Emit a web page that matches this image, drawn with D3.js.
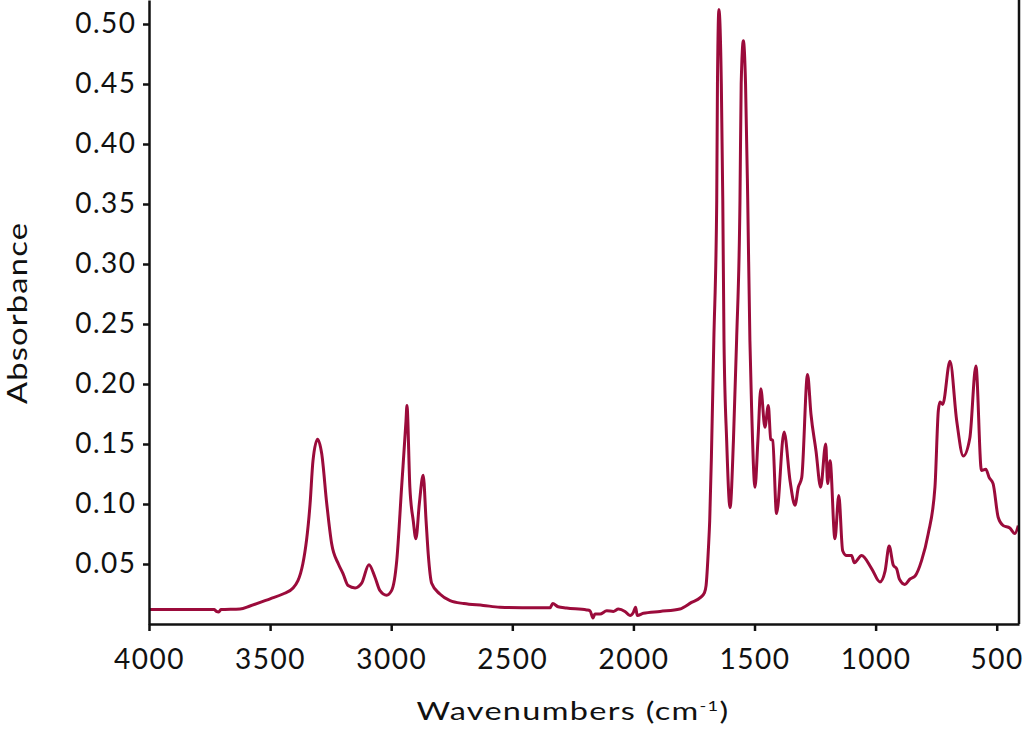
<!DOCTYPE html>
<html>
<head>
<meta charset="utf-8">
<script src="https://cdn.jsdelivr.net/npm/d3@7"></script>
<style>
  html, body { margin: 0; padding: 0; background: #fff; }
  svg { display: block; }
  .tick text, .lbl { font-family: Lato, "Open Sans", sans-serif; fill: #111; }
</style>
</head>
<body>
<svg id="chart" width="1024" height="730"></svg>
<script>
// Wavenumbers (cm-1), descending
const wavenumbers = [4000,3730,3722,3712,3703,3624,3583,3500,3447,3405,3365,3335,3323,3304,3287,3266,3246,3218,3199,3178,3149,3122,3092,3067,3047,3019,2998,2977,2957,2939,2935,2923,2909,2898,2884,2868,2856,2847,2833,2799,2757,2700,2620,2551,2400,2344,2333,2311,2276,2193,2179,2167,2159,2138,2110,2083,2062,2035,2014,2000,1991,1984,1959,1890,1808,1760,1724,1707,1700,1690,1685,1678,1668,1656,1653,1647,1637,1631,1626,1615,1601,1587,1574,1560,1555,1546,1537,1528,1519,1512,1498,1486,1474,1457,1443,1433,1425,1409,1378,1353,1333,1319,1305,1281,1267,1246,1227,1206,1198,1188,1168,1152,1136,1120,1099,1088,1058,1016,982,961,944,927,913,902,879,858,837,810,783,755,741,734,723,693,665,638,611,586,563,545,531,515,494,473,446,425,411];
// Absorbance values
const absorbance = [0.012,0.012,0.0105,0.010,0.012,0.0125,0.015,0.021,0.025,0.030,0.050,0.100,0.136,0.154,0.142,0.100,0.067,0.050,0.042,0.032,0.030,0.034,0.0494,0.039,0.028,0.024,0.028,0.053,0.114,0.169,0.182,0.114,0.086,0.071,0.100,0.124,0.086,0.058,0.034,0.025,0.0195,0.017,0.0155,0.014,0.0135,0.0135,0.017,0.0144,0.0133,0.0117,0.011,0.005,0.0083,0.0083,0.011,0.0105,0.0125,0.0105,0.007,0.0097,0.0139,0.007,0.0089,0.0105,0.0125,0.018,0.022,0.026,0.032,0.064,0.086,0.139,0.236,0.353,0.450,0.512,0.450,0.353,0.236,0.153,0.097,0.153,0.236,0.353,0.450,0.486,0.450,0.353,0.236,0.180,0.114,0.153,0.196,0.164,0.182,0.154,0.153,0.092,0.160,0.119,0.099,0.114,0.122,0.208,0.175,0.144,0.114,0.150,0.117,0.136,0.071,0.107,0.061,0.057,0.057,0.051,0.057,0.046,0.035,0.044,0.065,0.049,0.046,0.0375,0.033,0.0375,0.040,0.053,0.075,0.114,0.178,0.185,0.183,0.219,0.169,0.140,0.155,0.215,0.128,0.129,0.122,0.117,0.089,0.082,0.080,0.0755,0.082];
const xTicks = [4000,3500,3000,2500,2000,1500,1000,500];
const yTicks = [0.05,0.10,0.15,0.20,0.25,0.30,0.35,0.40,0.45,0.50];

const svg = d3.select("#chart");
const mLeft = 149, mRight = 1019, mBottom = 624, mTop = 0;

const x = d3.scaleLinear().domain([4000, 408]).range([mLeft, mRight]);
const y = d3.scaleLinear().domain([0, 0.52]).range([mBottom, mTop]);

const data = wavenumbers.map((w, i) => ({w, a: absorbance[i]}));

svg.append("defs").append("clipPath").attr("id", "clip")
  .append("rect").attr("x", mLeft).attr("y", mTop).attr("width", mRight - mLeft).attr("height", mBottom - mTop);

const line = d3.line().x(d => x(d.w)).y(d => y(d.a)).curve(d3.curveMonotoneX);

svg.append("path")
  .datum(data)
  .attr("clip-path", "url(#clip)")
  .attr("fill", "none")
  .attr("stroke", "#9b0b3b")
  .attr("stroke-width", 3)
  .attr("stroke-linejoin", "round")
  .attr("d", line);

// Axes
const xAxis = svg.append("g").attr("transform", `translate(0,${mBottom})`)
  .call(d3.axisBottom(x).tickValues(xTicks).tickFormat(d3.format("d")).tickSize(7).tickSizeOuter(0).tickPadding(18));
const yAxis = svg.append("g").attr("transform", `translate(${mLeft},0)`)
  .call(d3.axisLeft(y).tickValues(yTicks).tickFormat(d3.format(".2f")).tickSize(6).tickSizeOuter(0).tickPadding(6.5));

[xAxis, yAxis].forEach(g => {
  g.selectAll(".domain").attr("stroke", "#111").attr("stroke-width", 2.5);
  g.selectAll(".tick line").attr("stroke", "#111").attr("stroke-width", 2.5);
  g.selectAll(".tick text").style("font-size", "28px").style("letter-spacing", "1.5px").attr("fill", "#111");
});

// right border
svg.append("line").attr("x1", mRight).attr("x2", mRight).attr("y1", mTop).attr("y2", mBottom)
  .attr("stroke", "#111").attr("stroke-width", 2.5);

// Axis labels
const xl = svg.append("text").attr("class", "lbl")
  .attr("transform", "translate(573,720) scale(1.3,1)")
  .attr("text-anchor", "middle").style("font-size", "25px").style("letter-spacing", "1px");
xl.append("tspan").text("Wavenumbers (cm");
xl.append("tspan").attr("dy", -9).style("font-size", "14px").text("-1");
xl.append("tspan").attr("dy", 9).text(")");

svg.append("text").attr("class", "lbl")
  .attr("transform", "translate(27,313) rotate(-90) scale(1.21,1)")
  .attr("text-anchor", "middle").style("font-size", "27px").style("letter-spacing", "1px")
  .text("Absorbance");
</script>
</body>
</html>
